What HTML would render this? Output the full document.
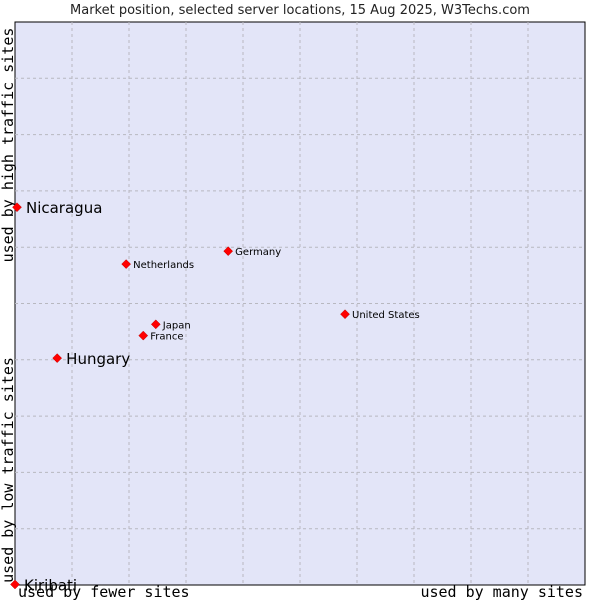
<!DOCTYPE html>
<html><head><meta charset="utf-8"><style>
body{margin:0;background:#fff;width:600px;height:600px;overflow:hidden}
svg text{font-family:"DejaVu Sans","Liberation Sans",sans-serif}
</style></head><body>
<svg id="chart" width="600" height="600" xmlns="http://www.w3.org/2000/svg">
<text x="300" y="14" font-size="13" text-anchor="middle" fill="#222">Market position, selected server locations, 15 Aug 2025, W3Techs.com</text>
<rect x="15" y="22" width="570" height="563" fill="#e3e5f8" stroke="#000" stroke-width="1"/>
<g id="grid"></g>
<text transform="translate(13,145) rotate(-90)" font-size="15" text-anchor="middle" style="font-family:'DejaVu Sans Mono','Liberation Mono',monospace">used by high traffic sites</text>
<text transform="translate(13,470) rotate(-90)" font-size="15" text-anchor="middle" style="font-family:'DejaVu Sans Mono','Liberation Mono',monospace">used by low traffic sites</text>
<text x="18" y="597" font-size="15" style="font-family:'DejaVu Sans Mono','Liberation Mono',monospace">used by fewer sites</text>
<text x="583" y="597" font-size="15" text-anchor="end" style="font-family:'DejaVu Sans Mono','Liberation Mono',monospace">used by many sites</text>
<g id="points"></g>
</svg>
<script>
const names=["Nicaragua","Hungary","Kiribati","Netherlands","Germany","United States","Japan","France"];
const xValues=[0.35,7.4,0,19.5,37.4,57.9,24.7,22.5];
const yValues=[67.1,40.3,0.1,57.0,59.3,48.1,46.3,44.3];
const highlighted=[true,true,true,false,false,false,false,false];
const NS="http://www.w3.org/2000/svg";
const X=v=>15+v*5.7, Y=v=>585-v*5.63;
const grid=document.getElementById('grid'), pts=document.getElementById('points');
for(let i=1;i<10;i++){
  const v=document.createElementNS(NS,'line');
  
  
  v.setAttribute('x1',X(i*10));v.setAttribute('x2',X(i*10));v.setAttribute('y1',22);v.setAttribute('y2',585);
  v.setAttribute('stroke','#b8b8c0');v.setAttribute('stroke-dasharray','3,3');grid.appendChild(v);
  const h=document.createElementNS(NS,'line');
  
  
  h.setAttribute('x1',15);h.setAttribute('x2',585);h.setAttribute('y1',Y(i*10));h.setAttribute('y2',Y(i*10));
  h.setAttribute('stroke','#b8b8c0');h.setAttribute('stroke-dasharray','3,3');grid.appendChild(h);
}
names.forEach((n,i)=>{
  const x=X(xValues[i]), y=Y(yValues[i]);
  const d=document.createElementNS(NS,'path');
  
  
  d.setAttribute('d',`M${x-4.5},${y}L${x},${y-4.5}L${x+4.5},${y}L${x},${y+4.5}Z`);
  d.setAttribute('fill','#f00');d.setAttribute('stroke','#b00');d.setAttribute('stroke-width','0.5');
  pts.appendChild(d);
  const t=document.createElementNS(NS,'text');
  
  
  t.setAttribute('x',x+(highlighted[i]?9:7));
  t.setAttribute('y',y+(highlighted[i]?6:4));
  t.setAttribute('font-size',highlighted[i]?'15':'10');
  t.setAttribute('fill','#000');
  t.textContent=n;pts.appendChild(t);
});
</script>
</body></html>
